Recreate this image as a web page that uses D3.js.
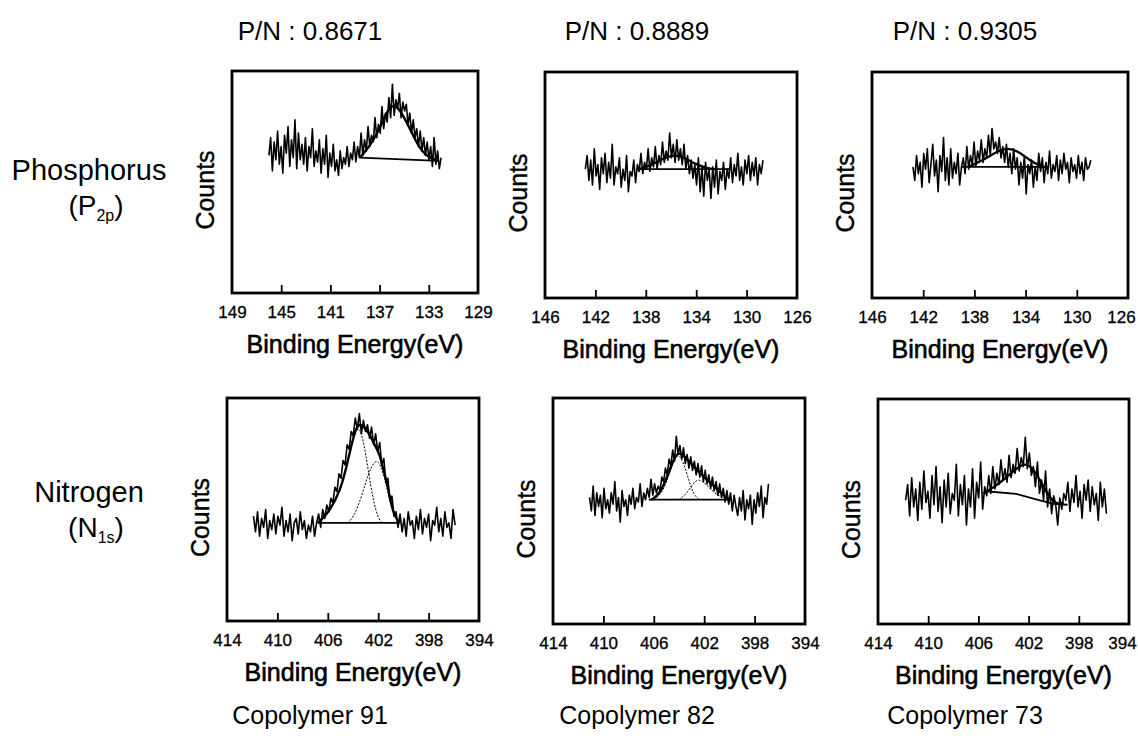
<!DOCTYPE html>
<html>
<head>
<meta charset="utf-8">
<script src="https://cdn.jsdelivr.net/npm/d3@7"></script>
<style>
  body { margin: 0; background: #fff; }
  svg { display: block; }
  text { font-family: "Liberation Sans", Arial, sans-serif; fill: #000; }
</style>
</head>
<body>
<svg width="1138" height="738"></svg>
<script>
// ---- data (counts in arbitrary units, 0..100 of the panel height)
var titles = ["P/N : 0.8671", "P/N : 0.8889", "P/N : 0.9305"]
var copolymers = ["Copolymer 91", "Copolymer 82", "Copolymer 73"]

var pTicks91 = [149, 145, 141, 137, 133, 129]
var pTicks = [146, 142, 138, 134, 130, 126]
var nTicks = [414, 410, 406, 402, 398, 394]

// energy span (first, last point) of each scan
var p91Span = [146, 132]
var p82Span = [142.8, 128.7]
var p73Span = [142.8, 128.9]
var n91Span = [411.9, 395.9]
var n82Span = [411.1, 396.9]
var n73Span = [411.8, 395.8]

var p91 = [62,70,55,68,60,73,58,66,54,71,63,
  75,57,69,61,78,56,72,60,67,58,
  70,55,66,61,74,57,64,59,69,54,
  65,58,71,52,63,57,67,55,60,53,
  64,56,61,58,66,57,63,60,68,59,
  66,61,72,62,69,64,75,66,71,68,
  79,70,76,72,84,74,81,77,88,79,
  94,80,87,83,90,79,86,82,85,76,
  81,72,78,70,74,66,73,64,70,62,
  68,60,66,57,70,58,64,56,61]

var p82 = [57,63,52,61,50,66,54,59,48,62,55,
  64,51,60,53,68,50,58,55,62,49,
  57,52,63,47,56,54,61,51,59,56,
  64,55,60,57,66,56,62,58,67,57,
  63,59,69,60,65,61,73,62,68,60,
  70,61,66,59,68,57,63,55,61,53,
  59,50,62,47,58,45,60,52,57,44,
  58,49,61,46,56,52,60,48,57,53,
  62,51,59,54,64,52,58,50,61,55,
  63,52,60,54,62,50,59,55,61]

var p73 = [58,52,63,55,60,49,64,57,66,51,59,
  68,54,61,47,63,56,71,52,62,50,
  66,53,60,55,64,50,58,62,55,67,
  57,63,59,69,58,65,61,70,60,66,
  62,72,63,75,66,69,64,71,62,67,
  60,68,58,64,55,66,57,62,50,60,
  53,63,46,59,55,61,49,58,52,64,
  56,62,51,60,55,65,53,59,56,63,
  52,61,55,64,57,60,51,62,56,59,
  53,63,55,60,52,62,57,58,61]

var n91 = [47,40,49,38,46,42,50,37,45,41,48,
  39,47,43,51,38,45,40,48,36,44,
  46,39,49,41,45,37,43,40,47,38,
  44,48,42,50,46,52,49,55,53,60,
  58,66,64,72,70,79,77,85,83,91,
  86,93,84,90,85,88,82,87,79,84,
  76,80,70,73,62,64,54,56,47,49,
  42,48,40,46,38,49,43,45,37,47,
  41,50,39,46,42,48,36,45,43,51,
  40,46,38,49,42,44,37,50,43]

var n82 = [56,50,61,48,58,52,57,47,60,51,55,
  49,58,53,63,50,56,45,59,52,55,
  48,57,53,60,51,56,54,62,52,58,
  55,60,56,64,57,62,58,61,59,65,
  63,69,66,73,70,77,72,83,75,79,
  73,78,71,75,69,74,68,72,66,71,
  65,70,63,68,62,66,60,65,59,63,
  57,62,56,60,54,59,53,58,50,57,
  52,48,56,50,59,46,55,51,57,44,
  55,49,58,52,61,47,56,53,62]

var n73 = [55,62,48,65,52,60,46,63,51,68,54,
  59,47,66,53,70,50,61,45,64,52,
  67,49,58,55,71,48,62,53,66,44,
  60,52,69,47,63,56,72,51,61,57,
  66,58,70,60,67,62,73,64,69,63,
  75,65,71,67,78,68,74,70,83,69,
  76,66,70,61,72,58,64,55,68,52,
  60,49,57,53,44,56,51,58,55,63,
  50,60,54,66,52,59,47,62,55,64,
  50,61,53,58,46,63,52,60,49]

// fitted envelopes, backgrounds and components [energy, counts]
var p91Env = [[138.6,61],[137.8,66],[137,74],[136.4,82],[135.9,85],[135.4,83],[134.8,77],[134.2,70],[133.6,64],[133,61],[132.2,59.5]]
var p91Base = [[138.6,61],[132.2,59.5]]
var p82Env = [[138.5,57],[137.5,59],[136.5,62],[135.7,63.5],[134.9,62],[134,59],[133,57.2],[132.5,57]]
var p82Base = [[138.7,57],[131.3,57]]
var p73Env = [[138.5,58],[137.3,61],[136.2,65],[135.4,66.5],[134.6,65],[133.7,61],[132.8,58.3],[132.5,58]]
var p73Base = [[139,58],[132.5,58]]

var n91Env = [[406.8,44],[406,48],[405,58],[404.4,72],[404,82],[403.6,89],[403.1,87],[402.7,84],[402.2,78],[401.9,75],[401.6,68],[401.3,62],[401,53],[400.7,47],[400.3,44]]
var n91Base = [[406.8,44],[400.3,44]]
var n91CompA = [[406.8,44],[406,48],[405,58],[404.4,72],[404,82],[403.6,88],[403.2,82],[402.8,68],[402.4,54],[402,46],[401.7,44]]
var n91CompB = [[404.4,44],[403.9,47],[403.3,56],[402.8,66],[402.2,73],[401.8,70],[401.4,62],[401,52],[400.6,46],[400.2,44]]

var n82Env = [[406.2,55],[405.6,57],[405,64],[404.5,72],[404.1,76],[403.7,75],[403.2,72],[402.7,69],[402.2,66],[401.6,63],[401,60],[400.5,57],[400,55]]
var n82Base = [[406.4,55],[399.8,55]]
var n82CompA = [[406,55],[405.3,58],[404.8,66],[404.3,74],[404,75],[403.6,71],[403.2,63],[402.8,57],[402.4,55]]
var n82CompB = [[404,55],[403.5,57],[403,61],[402.6,64],[402.2,63.5],[401.7,61],[401.2,58],[400.6,56],[400,55]]

var n73Env = [[405.6,58],[404.7,61],[403.8,65],[403,69],[402.2,72],[401.5,68],[400.8,61],[400.2,55],[399.6,53],[399.2,54]]
var n73Base = [[405.4,59],[403,57.8],[401.1,54.9],[400,53.4],[398.9,53]]

// ---- layout
var svg = d3.select("svg")
var boxes = [
  [232, 478, 71, 293], [545, 797, 72, 298], [872, 1128, 72, 298],
  [227, 479, 398, 621], [553, 805, 398, 624], [878, 1129, 399, 624]
]

var panels = [
  { ticks: pTicks91, span: p91Span, counts: p91, env: p91Env, base: p91Base, comps: [] },
  { ticks: pTicks, span: p82Span, counts: p82, env: p82Env, base: p82Base, comps: [] },
  { ticks: pTicks, span: p73Span, counts: p73, env: p73Env, base: p73Base, comps: [] },
  { ticks: nTicks, span: n91Span, counts: n91, env: n91Env, base: n91Base, comps: [n91CompA, n91CompB] },
  { ticks: nTicks, span: n82Span, counts: n82, env: n82Env, base: n82Base, comps: [n82CompA, n82CompB] },
  { ticks: nTicks, span: n73Span, counts: n73, env: n73Env, base: n73Base, comps: [] }
]

panels.forEach(function (p, k) {
  var b = boxes[k]
  var x = d3.scaleLinear().domain([p.ticks[0], p.ticks[p.ticks.length - 1]]).range([b[0], b[1]])
  var y = d3.scaleLinear().domain([0, 100]).range([b[3], b[2]])
  var g = svg.append("g")

  var pts = p.counts.map(function (c, i) {
    return [p.span[0] + (p.span[1] - p.span[0]) * i / (p.counts.length - 1), c]
  })
  var raw = d3.line().x(function (d) { return x(d[0]) }).y(function (d) { return y(d[1]) })
  var smooth = d3.line().curve(d3.curveBasis).x(function (d) { return x(d[0]) }).y(function (d) { return y(d[1]) })

  g.append("path").attr("d", raw(pts))
    .attr("fill", "none").attr("stroke", "#000").attr("stroke-width", 1.6)
    .attr("stroke-linejoin", "round")
  p.comps.forEach(function (c) {
    g.append("path").attr("d", smooth(c))
      .attr("fill", "none").attr("stroke", "#000").attr("stroke-width", 1)
      .attr("stroke-dasharray", "2,1.5")
  })
  g.append("path").attr("d", raw(p.base))
    .attr("fill", "none").attr("stroke", "#000").attr("stroke-width", 1.8)
  g.append("path").attr("d", smooth(p.env))
    .attr("fill", "none").attr("stroke", "#000").attr("stroke-width", 2.4)

  // frame
  g.append("rect")
    .attr("x", b[0]).attr("y", b[2])
    .attr("width", b[1] - b[0]).attr("height", b[3] - b[2])
    .attr("fill", "none").attr("stroke", "#000").attr("stroke-width", 2.8)

  // bottom axis: inward ticks, labels below
  var ax = g.append("g").attr("transform", "translate(0," + b[3] + ")")
    .call(d3.axisBottom(x).tickValues(p.ticks).tickSize(-8).tickPadding(13))
  ax.select(".domain").remove()
  ax.selectAll(".tick line").attr("stroke", "#000").attr("stroke-width", 1.8)
    .filter(function (d, i) { return i === 0 || i === p.ticks.length - 1 }).remove()
  ax.selectAll(".tick text").attr("font-size", 17).attr("fill", "#000")
    .attr("stroke", "#000").attr("stroke-width", 0.3)
    .attr("font-family", "'Liberation Sans', Arial, sans-serif")
  if (k % 3 === 2) {
    ax.selectAll(".tick text").filter(function (d, i) { return i === p.ticks.length - 1 }).attr("dx", -7)
  }

  g.append("text")
    .attr("transform", "translate(" + (b[0] - 18) + "," + ((b[2] + b[3]) / 2 + 8) + ") rotate(-90)")
    .attr("text-anchor", "middle").attr("font-size", 25)
    .attr("stroke", "#000").attr("stroke-width", 0.4)
    .text("Counts")

  g.append("text")
    .attr("x", (b[0] + b[1]) / 2).attr("y", b[3] + 60)
    .attr("text-anchor", "middle").attr("font-size", 25)
    .attr("stroke", "#000").attr("stroke-width", 0.6)
    .text("Binding Energy(eV)")
})

// column titles and bottom captions
var colCenters = [310, 637, 965]
titles.forEach(function (t, i) {
  svg.append("text").attr("x", colCenters[i]).attr("y", 40)
    .attr("text-anchor", "middle").attr("font-size", 26).text(t)
})
copolymers.forEach(function (t, i) {
  svg.append("text").attr("x", colCenters[i]).attr("y", 724)
    .attr("text-anchor", "middle").attr("font-size", 25).text(t)
})

// row labels with subscripts
function rowLabel(name, sym, sub, cy) {
  svg.append("text").attr("x", 89).attr("y", cy).attr("text-anchor", "middle")
    .attr("font-size", 29).text(name)
  var t = svg.append("text").attr("x", 96).attr("y", cy + 35).attr("text-anchor", "middle")
    .attr("font-size", 28)
  t.append("tspan").text("(" + sym)
  t.append("tspan").attr("font-size", 16).attr("dy", 6).text(sub)
  t.append("tspan").attr("dy", -6).text(")")
}
rowLabel("Phosphorus", "P", "2p", 180)
rowLabel("Nitrogen", "N", "1s", 502)
</script>
</body>
</html>
